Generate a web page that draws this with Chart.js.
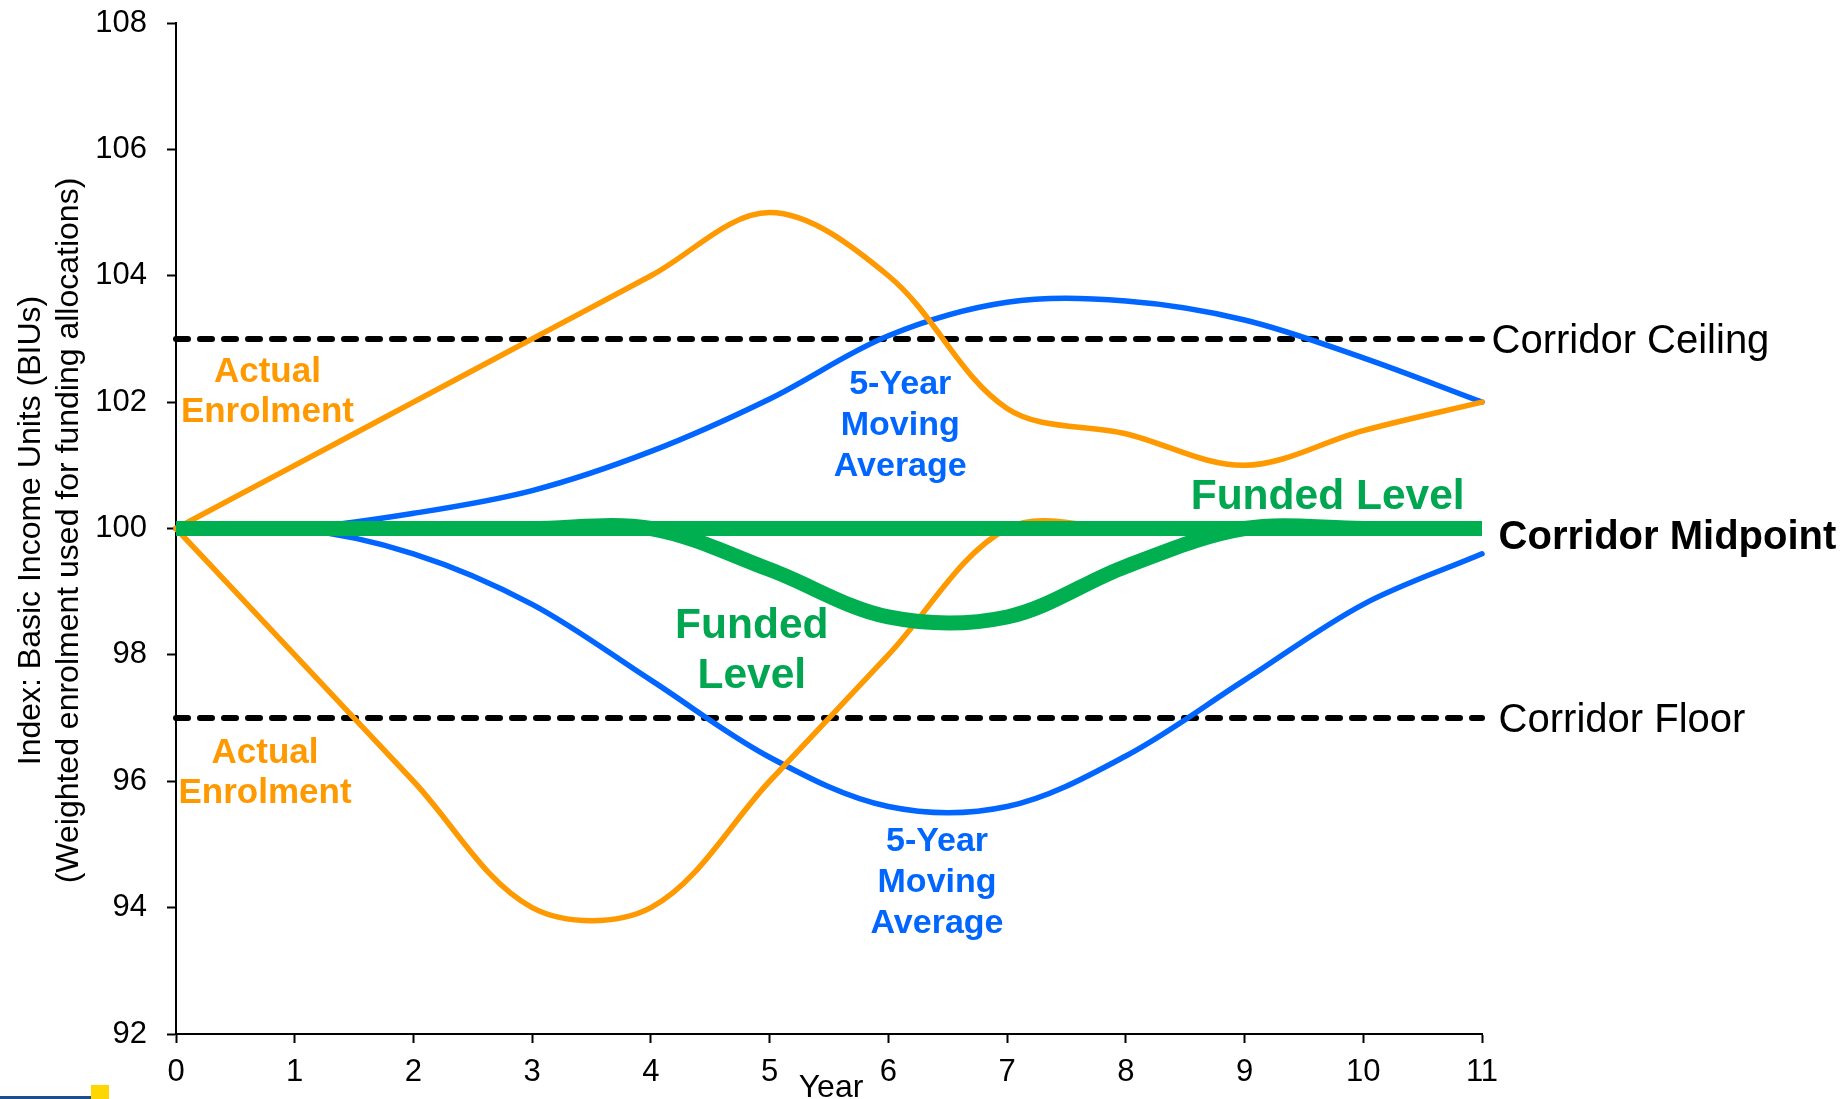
<!DOCTYPE html>
<html>
<head>
<meta charset="utf-8">
<script src="https://cdn.jsdelivr.net/npm/chart.js@4.4.1/dist/chart.umd.min.js"></script>
<style>
  html, body { margin: 0; padding: 0; background: #fff; }
  canvas { display: block; }
</style>
</head>
<body>
<canvas id="chart" width="1841" height="1099"></canvas>
<script>
// values
const years = [0, 1, 2, 3, 4, 5, 6, 7, 8, 9, 10, 11];
const yTicks = [92, 94, 96, 98, 100, 102, 104, 106, 108];
const actualHigh  = [100, 101, 102, 103, 104, 105, 104, 101.9, 101.5, 101.0, 101.55, 102];
const actualLow   = [100, 98, 96, 94, 94, 96, 98, 100, 100, 100, 100, 100];
const averageHigh = [100, 100, 100.24, 100.6, 101.22, 102.05, 103.05, 103.58, 103.6, 103.3, 102.7, 102];
const averageLow  = [100, 100, 99.6, 98.8, 97.6, 96.38, 95.6, 95.6, 96.4, 97.6, 98.8, 99.6];
const fundedLow   = [100, 100, 100, 100, 100, 99.35, 98.6, 98.6, 99.4, 100, 100, 100];
const corridorCeiling = 103;
const corridorMidpoint = 100;
const corridorFloor = 97;

const ORANGE = '#FF9900';
const BLUE = '#0066FF';
const GREEN = '#00B050';
const GREEN_TEXT = '#00A650';
const FONT = '"Liberation Sans", Arial, sans-serif';

const toPoints = vals => vals.map((v, i) => ({ x: years[i], y: v }));
const flat = v => [{ x: years[0], y: v }, { x: years[years.length - 1], y: v }];

const curve = (data, color, width, cap) => ({
  data, borderColor: color, borderWidth: width, tension: 0.34,
  borderCapStyle: cap || 'round', borderJoinStyle: 'round', pointRadius: 0, clip: false
});
const dashed = v => ({
  data: flat(v), borderColor: '#000', borderWidth: 6, borderDash: [12, 12],
  borderCapStyle: 'round', pointRadius: 0, clip: false
});

// annotation text, placed in data units
const notes = [
  { lines: ['Actual', 'Enrolment'], x: 0.77, y: 102.2, color: ORANGE, size: 35, gap: 40 },
  { lines: ['Actual', 'Enrolment'], x: 0.75, y: 96.18, color: ORANGE, size: 35, gap: 40 },
  { lines: ['5-Year', 'Moving', 'Average'], x: 6.10, y: 101.67, color: BLUE, size: 34, gap: 41 },
  { lines: ['5-Year', 'Moving', 'Average'], x: 6.41, y: 94.45, color: BLUE, size: 34, gap: 41 },
  { lines: ['Funded', 'Level'], x: 4.85, y: 98.1, color: GREEN_TEXT, size: 42.5, gap: 50 },
  { lines: ['Funded Level'], x: 9.70, y: 100.54, color: GREEN_TEXT, size: 42.5, gap: 0 }
];
const sideLabels = [
  { text: 'Corridor Ceiling', x: 11.08, y: corridorCeiling, bold: false },
  { text: 'Corridor Midpoint', x: 11.14, y: 99.89, bold: true },
  { text: 'Corridor Floor', x: 11.14, y: corridorFloor, bold: false }
];

const textPlugin = {
  id: 'texts',
  afterDraw(chart) {
    const { ctx, chartArea, scales: { x, y } } = chart;
    const nudge = 3; // canvas 'middle' sits a little high for these glyphs
    ctx.save();
    ctx.textBaseline = 'middle';
    ctx.textAlign = 'center';
    notes.forEach(n => {
      ctx.font = `bold ${n.size}px ${FONT}`;
      ctx.fillStyle = n.color;
      const cx = x.getPixelForValue(n.x);
      const cy = y.getPixelForValue(n.y) + nudge;
      n.lines.forEach((t, i) => {
        ctx.fillText(t, cx, cy + (i - (n.lines.length - 1) / 2) * n.gap);
      });
    });

    ctx.textAlign = 'left';
    ctx.fillStyle = '#000';
    sideLabels.forEach(s => {
      ctx.font = `${s.bold ? 'bold ' : ''}40px ${FONT}`;
      ctx.fillText(s.text, x.getPixelForValue(s.x), y.getPixelForValue(s.y) + nudge);
    });

    // axis titles
    ctx.textAlign = 'center';
    ctx.font = `32px ${FONT}`;
    ctx.fillText('Year', (chartArea.left + chartArea.right) / 2 + 2, chartArea.bottom + 54);

    ctx.font = `32px ${FONT}`;
    ctx.translate(0, (chartArea.top + chartArea.bottom) / 2 + 2);
    ctx.rotate(-Math.PI / 2);
    ctx.fillText('Index: Basic Income Units (BIUs)', 0, 31);
    ctx.fillText('(Weighted enrolment used for funding allocations)', 0, 69);
    ctx.restore();

    // corner marks of the slide
    ctx.save();
    ctx.fillStyle = '#1F4E8C';
    ctx.fillRect(0, 1096, 91, 3);
    ctx.fillStyle = '#FFD700';
    ctx.fillRect(91, 1085, 18, 14);
    ctx.restore();
  }
};

new Chart(document.getElementById('chart'), {
  type: 'line',
  data: {
    datasets: [
      curve(toPoints(fundedLow), GREEN, 15, 'butt'),
      { data: flat(corridorMidpoint), borderColor: GREEN, borderWidth: 15, pointRadius: 0, borderCapStyle: 'butt', clip: false },
      curve(toPoints(actualHigh), ORANGE, 5.5),
      curve(toPoints(actualLow), ORANGE, 5.5, 'butt'),
      curve(toPoints(averageHigh), BLUE, 5.5),
      curve(toPoints(averageLow), BLUE, 5.5),
      dashed(corridorCeiling),
      dashed(corridorFloor)
    ]
  },
  options: {
    responsive: false,
    animation: false,
    devicePixelRatio: 1,
    layout: { padding: { top: 23, right: 359, bottom: 0, left: 0 } },
    plugins: { legend: { display: false }, tooltip: { enabled: false } },
    scales: {
      x: {
        type: 'linear', min: 0, max: 11,
        afterBuildTicks: s => { s.ticks = years.map(v => ({ value: v })); },
        afterFit: s => { s.height = 65; s.paddingLeft = 0; s.paddingRight = 0; },
        grid: { drawOnChartArea: false, drawTicks: true, tickLength: 9, tickWidth: 2, tickColor: '#000' },
        border: { color: '#000', width: 2 },
        ticks: { color: '#000', padding: 11, maxRotation: 0, font: { family: FONT, size: 31 } }
      },
      y: {
        min: 92, max: 108,
        afterBuildTicks: s => { s.ticks = yTicks.map(v => ({ value: v })); },
        afterFit: s => { s.width = 176; s.paddingTop = 0; s.paddingBottom = 0; },
        grid: { drawOnChartArea: false, drawTicks: true, tickLength: 9, tickWidth: 2, tickColor: '#000' },
        border: { color: '#000', width: 2 },
        ticks: { color: '#000', padding: 20, font: { family: FONT, size: 31 } }
      }
    }
  },
  plugins: [textPlugin]
});
</script>
</body>
</html>
